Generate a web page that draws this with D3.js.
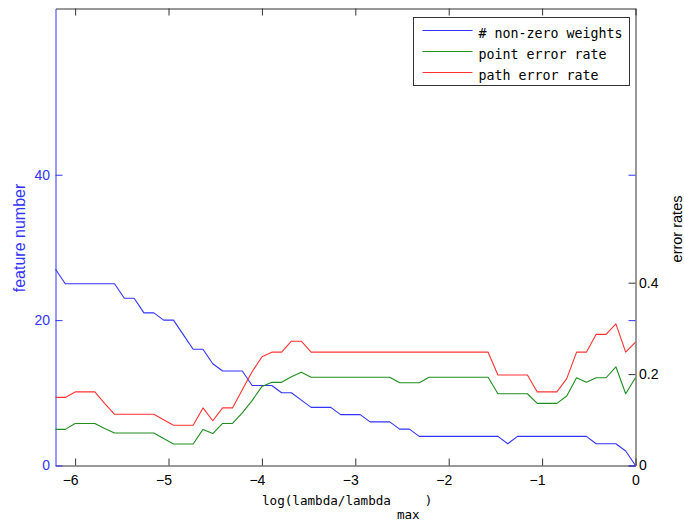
<!DOCTYPE html>
<html>
<head>
<meta charset="utf-8">
<script src="https://cdn.jsdelivr.net/npm/d3@7"></script>
<style>
	body { margin: 0; background: #fff; }
	svg { display: block; }
	.tick text { font-family: 'Liberation Sans', Arial, sans-serif; font-size: 14px; }
</style>
</head>
<body>
<div id="chart"></div>
<script>
// log(lambda/lambda_max) grid
const X_LOG = [
	-6.210, -6.105, -6.000, -5.894, -5.789, -5.684, -5.578, -5.473, -5.368, -5.263,
	-5.157, -5.052, -4.947, -4.842, -4.736, -4.631, -4.526, -4.421, -4.315, -4.210,
	-4.105, -3.999, -3.894, -3.789, -3.684, -3.578, -3.473, -3.368, -3.263, -3.157,
	-3.052, -2.947, -2.842, -2.736, -2.631, -2.526, -2.421, -2.315, -2.210, -2.105,
	-2.000, -1.894, -1.789, -1.684, -1.578, -1.473, -1.368, -1.263, -1.157, -1.052,
	-0.947, -0.842, -0.736, -0.631, -0.526, -0.421, -0.315, -0.210, -0.105, 0
];
const NONZERO_WEIGHTS = [
	27, 25, 25, 25, 25, 25, 25, 23, 23, 21,
	21, 20, 20, 18, 16, 16, 14, 13, 13, 13,
	11, 11, 11, 10, 10, 9, 8, 8, 8, 7,
	7, 7, 6, 6, 6, 5, 5, 4, 4, 4,
	4, 4, 4, 4, 4, 4, 3, 4, 4, 4,
	4, 4, 4, 4, 4, 3, 3, 3, 2, 0
];
const POINT_ERROR = [
	0.079, 0.079, 0.092, 0.092, 0.092, 0.081, 0.071, 0.071, 0.071, 0.071,
	0.071, 0.059, 0.047, 0.047, 0.047, 0.079, 0.070, 0.092, 0.092, 0.115,
	0.142, 0.173, 0.182, 0.182, 0.194, 0.204, 0.193, 0.193, 0.193, 0.193,
	0.193, 0.193, 0.193, 0.193, 0.193, 0.181, 0.181, 0.181, 0.193, 0.193,
	0.193, 0.193, 0.193, 0.193, 0.193, 0.157, 0.157, 0.157, 0.157, 0.136,
	0.136, 0.136, 0.152, 0.192, 0.182, 0.192, 0.192, 0.216, 0.157, 0.192
];
const PATH_ERROR = [
	0.149, 0.149, 0.161, 0.161, 0.161, 0.136, 0.112, 0.112, 0.112, 0.112,
	0.112, 0.100, 0.088, 0.088, 0.088, 0.126, 0.098, 0.126, 0.126, 0.166,
	0.205, 0.238, 0.248, 0.248, 0.272, 0.272, 0.248, 0.248, 0.248, 0.248,
	0.248, 0.248, 0.248, 0.248, 0.248, 0.248, 0.248, 0.248, 0.248, 0.248,
	0.248, 0.248, 0.248, 0.248, 0.248, 0.198, 0.198, 0.198, 0.198, 0.161,
	0.161, 0.161, 0.190, 0.248, 0.248, 0.287, 0.287, 0.310, 0.248, 0.270
];
const X_TICKS = [-6, -5, -4, -3, -2, -1, 0];
const LEFT_TICKS = [0, 20, 40];
const RIGHT_TICKS = [0, 0.2, 0.4];
const SERIES_NAMES = ['# non-zero weights', 'point error rate', 'path error rate'];

const COLORS = { blue: '#3333ff', green: '#1f8f1f', red: '#ff3333', axis: '#333333' };
const MARGIN = { TOP: 8.5, LEFT: 55.5, BOTTOM: 57.5, RIGHT: 48.5 };
const FULL_W = 684, FULL_H = 523;
const WIDTH = FULL_W - MARGIN.LEFT - MARGIN.RIGHT;
const HEIGHT = FULL_H - MARGIN.TOP - MARGIN.BOTTOM;
const MONO = "'DejaVu Sans Mono', monospace";
const SANS = "'Liberation Sans', Arial, sans-serif";

var svg = d3.select('#chart').append('svg')
	.attr('width', FULL_W)
	.attr('height', FULL_H);
var g = svg.append('g')
	.attr('transform', 'translate(' + MARGIN.LEFT + ',' + MARGIN.TOP + ')');

var x = d3.scaleLinear().domain([d3.min(X_LOG), d3.max(X_LOG)]).range([0, WIDTH]);
var yLeft = d3.scaleLinear().domain([0, 62.87]).range([HEIGHT, 0]);
var yRight = d3.scaleLinear().domain([0, 1]).range([HEIGHT, 0]);

var fmtX = function (d) { return d < 0 ? '\u2212' + Math.abs(d) : String(d); };

// top border with mirrored x ticks
g.append('g')
	.call(d3.axisTop(x).tickValues(X_TICKS).tickSizeInner(-7).tickSizeOuter(0).tickFormat(''))
	.call(function (a) { a.select('.domain').attr('stroke', COLORS.axis); a.selectAll('line').attr('stroke', COLORS.axis); });

// bottom axis
g.append('g')
	.attr('transform', 'translate(0,' + HEIGHT + ')')
	.call(d3.axisBottom(x).tickValues(X_TICKS).tickSizeInner(-7).tickSizeOuter(0).tickPadding(10).tickFormat(fmtX))
	.call(function (a) {
		a.select('.domain').attr('stroke', COLORS.axis);
		a.selectAll('line').attr('stroke', COLORS.axis);
		a.selectAll('text').attr('fill', '#000').attr('dx', function (d) { return d < 0 ? '-5' : 0; });
	});

// right axis (error rates)
g.append('g')
	.attr('transform', 'translate(' + WIDTH + ',0)')
	.call(d3.axisRight(yRight).tickValues(RIGHT_TICKS).tickSizeInner(-7).tickSizeOuter(0).tickPadding(3.5)
		.tickFormat(function (d) { return d === 0 ? '0' : d3.format('.1f')(d); }))
	.call(function (a) {
		a.select('.domain').attr('stroke', COLORS.axis);
		a.selectAll('line').attr('stroke', COLORS.axis);
		a.selectAll('text').attr('fill', '#000');
	});

// blue ticks mirrored on the right side
g.append('g')
	.attr('transform', 'translate(' + WIDTH + ',0)')
	.call(d3.axisLeft(yLeft).tickValues(LEFT_TICKS).tickSizeInner(7).tickSizeOuter(0).tickFormat(''))
	.call(function (a) { a.select('.domain').remove(); a.selectAll('line').attr('stroke', COLORS.blue); });

// left axis (feature number)
g.append('g')
	.call(d3.axisLeft(yLeft).tickValues(LEFT_TICKS).tickSizeInner(-7).tickSizeOuter(0).tickPadding(5.5))
	.call(function (a) {
		a.select('.domain').attr('stroke', COLORS.blue);
		a.selectAll('line').attr('stroke', COLORS.blue);
		a.selectAll('text').attr('fill', COLORS.blue);
	});

var lineLeft = d3.line()
	.x(function (d, i) { return x(X_LOG[i]); })
	.y(function (d) { return yLeft(d); });
var lineRight = d3.line()
	.x(function (d, i) { return x(X_LOG[i]); })
	.y(function (d) { return yRight(d); });

drawLine(NONZERO_WEIGHTS, lineLeft, COLORS.blue);
drawLine(POINT_ERROR, lineRight, COLORS.green);
drawLine(PATH_ERROR, lineRight, COLORS.red);

function drawLine (data, gen, color) {
	g.append('path')
		.datum(data)
		.attr('fill', 'none')
		.attr('stroke', color)
		.attr('stroke-width', 1.1)
		.attr('stroke-linejoin', 'round')
		.attr('d', gen);
}

// axis labels
svg.append('text')
	.attr('x', 262)
	.attr('y', 504.5)
	.style('font-family', MONO)
	.style('font-size', '12.6px')
	.call(function (t) {
		t.append('tspan').text('log(lambda/lambda');
		t.append('tspan').attr('dx', 6).attr('dy', 14.5).text('max');
		t.append('tspan').attr('dx', 5).attr('dy', -14.5).text(')');
	});

svg.append('text')
	.attr('transform', 'translate(24.5,238) rotate(-90)')
	.attr('text-anchor', 'middle')
	.attr('fill', COLORS.blue)
	.style('font-family', SANS)
	.style('font-size', '16px')
	.text('feature number');

svg.append('text')
	.attr('transform', 'translate(681.5,229) rotate(-90)')
	.attr('text-anchor', 'middle')
	.attr('fill', '#000')
	.style('font-family', SANS)
	.style('font-size', '14.5px')
	.text('error rates');

// legend
var legend = svg.append('g').attr('transform', 'translate(413.5,17.5)');
legend.append('rect')
	.attr('width', 216)
	.attr('height', 68)
	.attr('fill', '#fff')
	.attr('stroke', COLORS.axis);
var legendColors = [COLORS.blue, COLORS.green, COLORS.red];
var rows = legend.selectAll('.row').data(SERIES_NAMES).enter()
	.append('g')
	.attr('class', 'row')
	.attr('transform', function (d, i) { return 'translate(0,' + (13 + i * 21) + ')'; });
rows.append('line')
	.attr('x1', 9).attr('x2', 59)
	.attr('stroke', function (d, i) { return legendColors[i]; })
	.attr('stroke-width', 1.1);
rows.append('text')
	.attr('x', 65)
	.attr('y', 7.5)
	.style('font-family', MONO)
	.style('font-size', '13.3px')
	.text(function (d) { return d; });
</script>
</body>
</html>
